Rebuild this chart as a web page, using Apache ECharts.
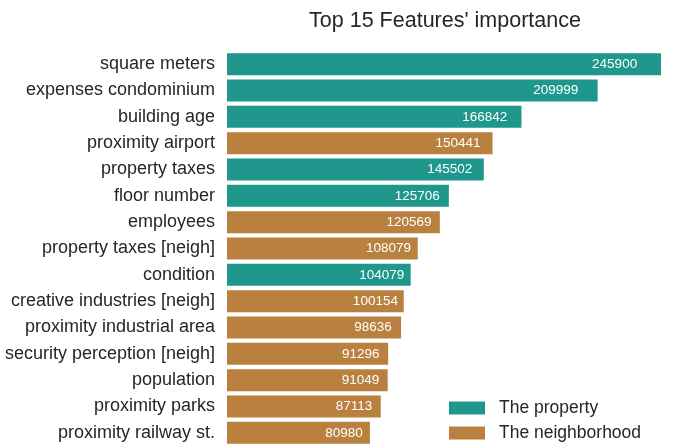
<!DOCTYPE html>
<html>
<head>
<meta charset="utf-8">
<script src="https://cdn.jsdelivr.net/npm/echarts@6/dist/echarts.min.js"></script>
<style>
  html, body { margin: 0; padding: 0; background: #fff; }
  #main { width: 682px; height: 447px; }
</style>
</head>
<body>
<div id="main"></div>
<script>
// features, top to bottom
var features = ['square meters', 'expenses condominium', 'building age', 'proximity airport',
    'property taxes', 'floor number', 'employees', 'property taxes [neigh]', 'condition',
    'creative industries [neigh]', 'proximity industrial area', 'security perception [neigh]',
    'population', 'proximity parks', 'proximity railway st.'];
var importance = [245900, 209999, 166842, 150441, 145502, 125706, 120569, 108079, 104079,
    100154, 98636, 91296, 91049, 87113, 80980];
// P = the property, N = the neighborhood
var group = ['P', 'P', 'P', 'N', 'P', 'P', 'N', 'N', 'P', 'N', 'N', 'N', 'N', 'N', 'N'];

var teal = '#1f978c', brown = '#b9803f';

function pick(g){
    return importance.map(function(v, i){ return group[i] == g ? v : null; });
}

var barLabel = {
    show: true,
    position: ['93%', '50%'],
    offset: [-16, 0],
    align: 'center',
    verticalAlign: 'middle',
    color: '#fff',
    fontSize: 13.5,
    fontFamily: 'Liberation Sans'
};

function legendAt(name, top){
    return {
        left: 449,
        top: top,
        padding: 0,
        icon: 'rect',
        itemWidth: 36,
        itemHeight: 13,
        textStyle: { fontSize: 17.5, color: '#262626', padding: [0, 0, 0, 9], fontFamily: 'Liberation Sans' },
        data: [name]
    };
}

var option = {
    backgroundColor: '#fff',
    animation: false,
    textStyle: { fontFamily: 'Liberation Sans' },
    title: {
        text: "Top 15 Features' importance",
        left: 440,
        top: 5,
        textAlign: 'center',
        textStyle: { fontSize: 21.5, fontWeight: 'normal', color: '#262626', fontFamily: 'Liberation Sans' }
    },
    legend: [legendAt('The property', 399), legendAt('The neighborhood', 424)],
    grid: { left: 227, right: 21, top: 51, bottom: 1, containLabel: false },
    xAxis: {
        type: 'value',
        min: 0,
        max: 245900,
        show: false
    },
    yAxis: {
        type: 'category',
        inverse: true,
        data: features,
        axisLine: { show: false },
        axisTick: { show: false },
        splitLine: { show: false },
        axisLabel: { fontSize: 18, color: '#262626', margin: 12, fontFamily: 'Liberation Sans' }
    },
    series: [
        {
            name: 'The property',
            type: 'bar',
            stack: 'all',
            barWidth: 22,
            itemStyle: { color: teal },
            label: barLabel,
            data: pick('P')
        },
        {
            name: 'The neighborhood',
            type: 'bar',
            stack: 'all',
            barWidth: 22,
            itemStyle: { color: brown },
            label: barLabel,
            data: pick('N')
        }
    ]
};

var myChart = echarts.init(document.getElementById('main'));
myChart.setOption(option);
</script>
</body>
</html>
